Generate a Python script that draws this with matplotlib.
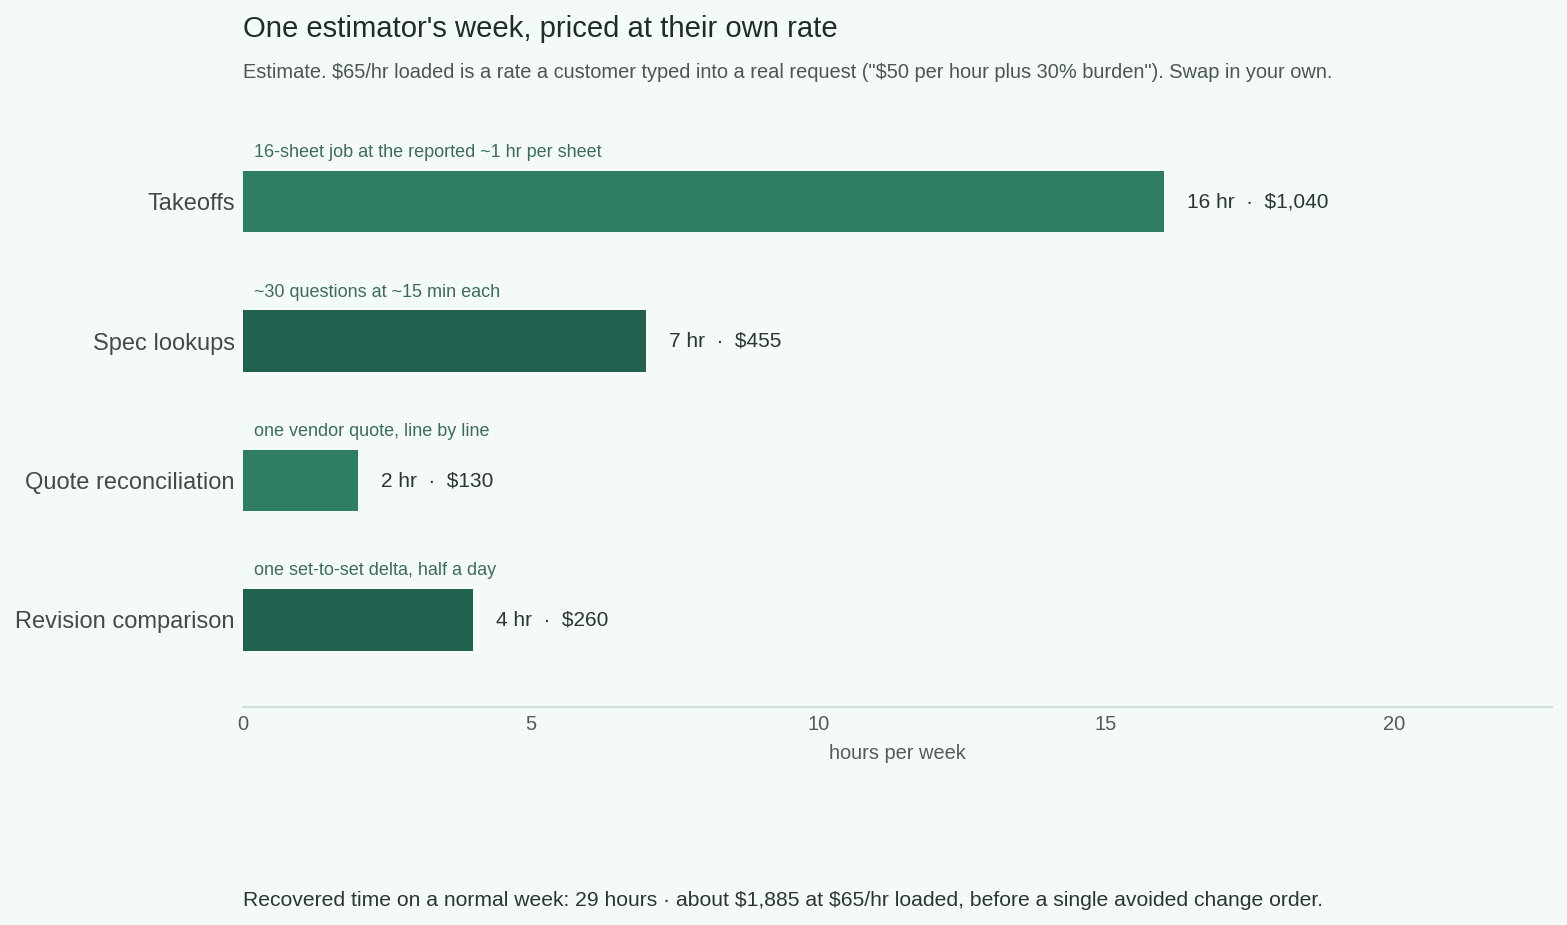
import matplotlib
matplotlib.use("Agg")
import matplotlib.pyplot as plt

plt.rcParams['font.family'] = ['Liberation Sans', 'DejaVu Sans']
plt.rcParams['text.parse_math'] = False

categories = ["Takeoffs", "Spec lookups", "Quote reconciliation", "Revision comparison"]
hours = [16, 7, 2, 4]
dollars = [1040, 455, 130, 260]
notes = ["16-sheet job at the reported ~1 hr per sheet",
         "~30 questions at ~15 min each",
         "one vendor quote, line by line",
         "one set-to-set delta, half a day"]
bar_colors = ["#2f7d65", "#226050", "#2f7d65", "#226050"]
xticks = [0, 5, 10, 15, 20]

W, H = 1567, 925
bg = "#f3faf7"
fig = plt.figure(figsize=(W / 100, H / 100), dpi=100, facecolor=bg)

ax_left, ax_right = 243 / W, 1552 / W
ax_top, ax_bot = 1 - 104 / H, 1 - 707 / H
ax = fig.add_axes([ax_left, ax_bot, ax_right - ax_left, ax_top - ax_bot], facecolor=bg)

ypos = list(range(len(categories)))
ax.barh(ypos, hours, height=0.44, color=bar_colors, zorder=2)
ax.set_xlim(0, 22.75)
ax.set_ylim(3.624, -0.70)

ax.set_yticks(ypos)
ax.set_yticklabels(categories, fontsize=17, color="#444a47")
ax.set_xticks(xticks)
ax.set_xticklabels([str(t) for t in xticks], fontsize=14.5, color="#555b58")
ax.tick_params(axis='both', length=0)
ax.tick_params(axis='y', pad=6)
ax.tick_params(axis='x', pad=6)
for s in ["top", "right", "left"]:
    ax.spines[s].set_visible(False)
ax.spines["bottom"].set_color("#cfe0da")
ax.spines["bottom"].set_linewidth(1.5)
ax.set_xlabel("hours per week", fontsize=14.4, color="#555b58", labelpad=7)

for i, (h, d, n) in enumerate(zip(hours, dollars, notes)):
    ax.annotate(f"{h} hr  \u00b7  ${d:,}", xy=(h, i), xytext=(23, 0), textcoords="offset pixels",
                ha="left", va="center", fontsize=15, color="#2b3531")
    ax.annotate(n, xy=(0, i), xytext=(11, 49), textcoords="offset pixels",
                ha="left", va="center", fontsize=13, color="#3f6b5d")

fig.text(243 / W, 1 - 29 / H, "One estimator's week, priced at their own rate",
         ha="left", va="center", fontsize=21.1, color="#1f2d28")
fig.text(243 / W, 1 - 72 / H,
         "Estimate. $65/hr loaded is a rate a customer typed into a real request (\"$50 per hour plus 30% burden\"). Swap in your own.",
         ha="left", va="center", fontsize=14.45, color="#4d5652")
fig.text(243 / W, 1 - 900 / H,
         "Recovered time on a normal week: 29 hours \u00b7 about $1,885 at $65/hr loaded, before a single avoided change order.",
         ha="left", va="center", fontsize=15.2, color="#2b3531")

fig.savefig("out.png", dpi=100, facecolor=bg)
